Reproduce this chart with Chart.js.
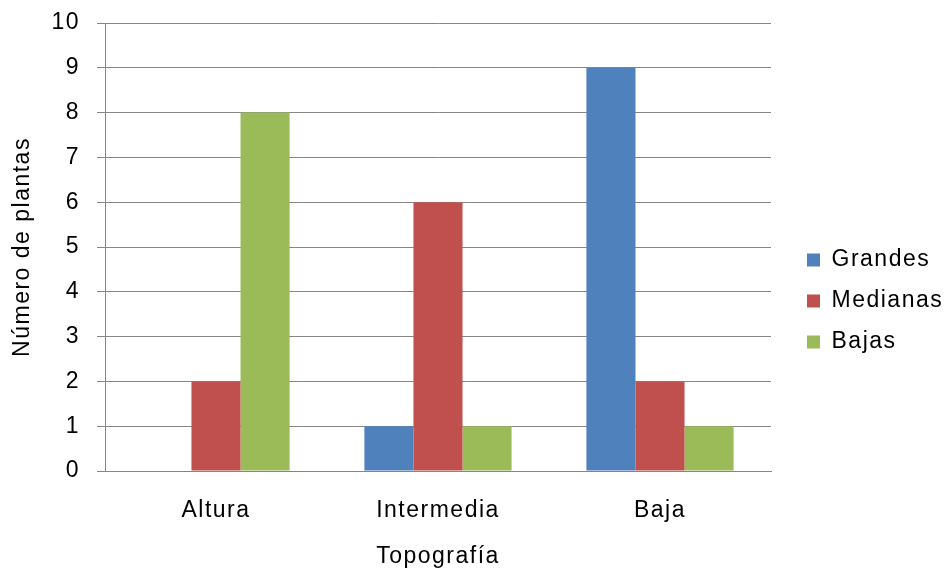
<!DOCTYPE html>
<html>
<head>
<meta charset="utf-8">
<script src="https://cdn.jsdelivr.net/npm/chart.js@4"></script>
<style>
  html, body { margin: 0; padding: 0; background: #fff; }
  #wrap { width: 946px; height: 571px; position: relative; }
</style>
</head>
<body>
<div id="wrap"><canvas id="c"></canvas></div>
<script>
// Plant counts by topography class
const categories = ['Altura', 'Intermedia', 'Baja'];
const grandes = [0, 1, 9];
const medianas = [2, 6, 2];
const bajas = [8, 1, 1];
const yTickValues = [0, 1, 2, 3, 4, 5, 6, 7, 8, 9, 10];

const FONT = { family: '"Liberation Sans", Arial, sans-serif', size: 23 };
const GRID = '#868686';

// Slightly open letter spacing for all canvas text
const spacedText = {
  id: 'spacedText',
  beforeUpdate(chart) { chart.ctx.letterSpacing = '1.5px'; },
  beforeDraw(chart) { chart.ctx.letterSpacing = '1.5px'; }
};

// Fixed legend column width and label offset
const legendBox = {
  id: 'legendBox',
  beforeUpdate(chart) {
    const lg = chart.legend;
    if (lg && !lg._fixedWidth) {
      const fit = lg.fit;
      lg.fit = function () { fit.call(this); this.width = 175; };
      lg._fixedWidth = true;
    }
  },
  afterLayout(chart) {
    const lg = chart.legend;
    lg.left += 18;
    lg.top += 4;
    lg.bottom += 4;
  }
};

Chart.defaults.color = '#000';
Chart.defaults.font = FONT;

new Chart(document.getElementById('c'), {
  type: 'bar',
  data: {
    labels: categories,
    datasets: [
      { label: 'Grandes', data: grandes, backgroundColor: '#4F81BD' },
      { label: 'Medianas', data: medianas, backgroundColor: '#C0504D' },
      { label: 'Bajas', data: bajas, backgroundColor: '#9BBB59' }
    ]
  },
  options: {
    responsive: true,
    maintainAspectRatio: false,
    animation: false,
    devicePixelRatio: 1,
    layout: { padding: { top: 23, left: 0, right: 0, bottom: 0 } },
    datasets: { bar: { categoryPercentage: 0.663, barPercentage: 1.0, borderWidth: 0 } },
    plugins: {
      tooltip: { enabled: false },
      legend: {
        position: 'right',
        labels: { boxWidth: 13, boxHeight: 13, padding: 18, font: FONT, color: '#000' }
      }
    },
    scales: {
      x: {
        grid: { display: false, drawTicks: false },
        border: { display: true, color: GRID, width: 1 },
        ticks: { padding: 26, font: FONT, color: '#000' },
        title: { display: true, text: 'Topografía', font: FONT, color: '#000', padding: { top: 0, bottom: 1 } },
        afterFit(scale) { scale.height = 100; }
      },
      y: {
        min: 0,
        max: 10,
        grid: { color: GRID, lineWidth: 1, drawTicks: true, tickLength: 8, tickColor: GRID },
        border: { display: true, color: GRID, width: 1 },
        ticks: { padding: 17, font: FONT, color: '#000' },
        afterBuildTicks(scale) { scale.ticks = yTickValues.map(v => ({ value: v })); },
        title: { display: true, text: 'Número de plantas', font: FONT, color: '#000', padding: { top: 9, bottom: 0 } },
        afterFit(scale) {
          scale.width = 105;
          scale.paddingTop = 0;
          scale.paddingBottom = 0;
        }
      }
    }
  },
  plugins: [spacedText, legendBox]
});
</script>
</body>
</html>
